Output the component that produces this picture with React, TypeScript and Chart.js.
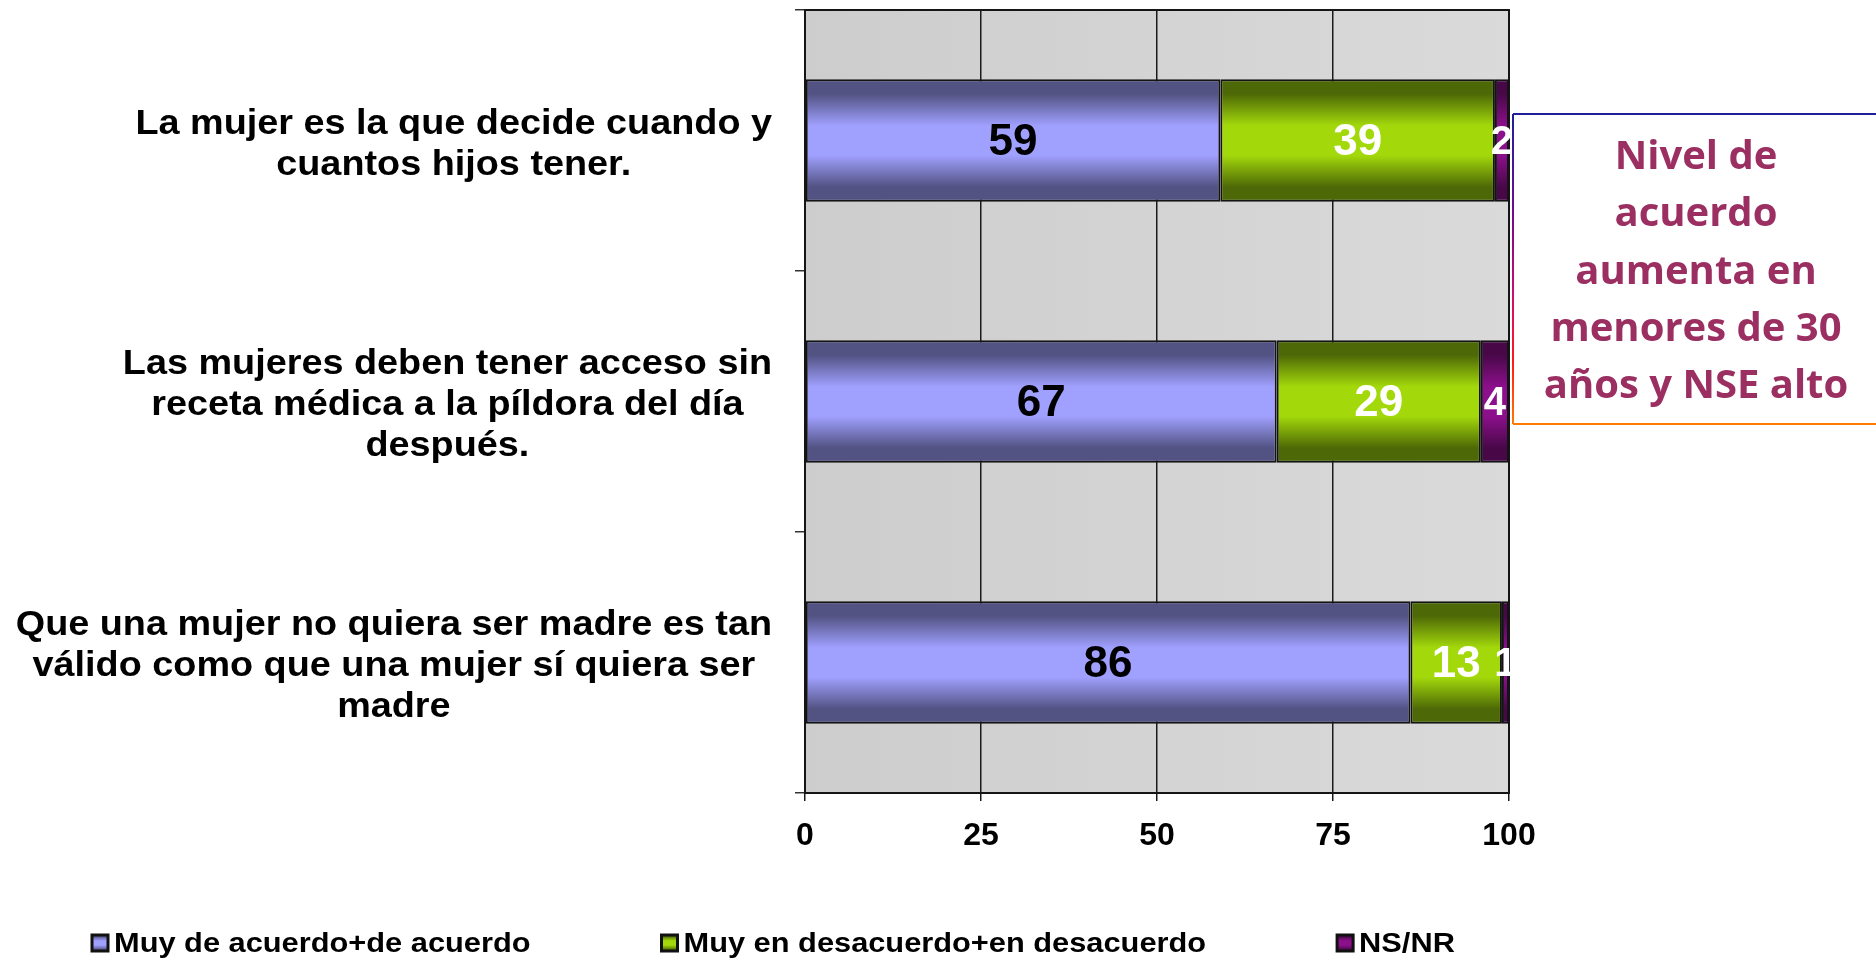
import React, { useEffect, useRef } from "react";
import { Chart, registerables } from "chart.js";

Chart.register(...registerables);

const categories: string[][] = [
  ["La mujer es la que decide cuando y", "cuantos hijos tener."],
  ["Las mujeres deben tener acceso sin", "receta médica a la píldora del día", "después."],
  ["Que una mujer no quiera ser madre es tan", "válido como que una mujer sí quiera ser", "madre"],
];
const seriesLabels = ["Muy de acuerdo+de acuerdo", "Muy en desacuerdo+en desacuerdo", "NS/NR"];
const agreeValues = [59, 67, 86];
const disagreeValues = [39, 29, 13];
const nsnrValues = [2, 4, 1];
const xMin = 0;
const xMax = 100;
const xStep = 25;
const annotationLines = ["Nivel de", "acuerdo", "aumenta en", "menores de 30", "años y NSE alto"];

const seriesColors = [
  { light: "#a0a0ff", dark: "#525283", text: "#000000", size: 44 },
  { light: "#a3d90b", dark: "#4d6806", text: "#ffffff", size: 44 },
  { light: "#8c0f8c", dark: "#480848", text: "#ffffff", size: 40 },
];

const FONT = "'Liberation Sans', Arial, Helvetica, sans-serif";
const BAR_PCT = 0.47;

function makeGradient(c: CanvasRenderingContext2D, y0: number, y1: number, light: string, dark: string) {
  const g = c.createLinearGradient(0, y0, 0, y1);
  g.addColorStop(0, dark);
  g.addColorStop(0.12, dark);
  g.addColorStop(0.38, light);
  g.addColorStop(0.62, light);
  g.addColorStop(0.88, dark);
  g.addColorStop(1, dark);
  return g;
}

function barFill(idx: number) {
  return (ctx: any) => {
    const chart = ctx.chart;
    const col = seriesColors[idx];
    if (!chart.chartArea || ctx.dataIndex === undefined || !chart.scales.y) return col.light;
    const ys = chart.scales.y;
    const band = (chart.chartArea.bottom - chart.chartArea.top) / categories.length;
    const center = ys.getPixelForValue(ctx.dataIndex);
    const t = band * BAR_PCT;
    return makeGradient(chart.ctx, center - t / 2, center + t / 2, col.light, col.dark);
  };
}

function stretchedText(c: CanvasRenderingContext2D, text: string, x: number, y: number, sx: number, align: CanvasTextAlign) {
  c.save();
  c.translate(x, y);
  c.scale(sx, 1);
  c.textAlign = align;
  c.fillText(text, 0, 0);
  c.restore();
}

const framePlugin = {
  id: "frame",
  beforeDraw(chart: any) {
    const { ctx, chartArea: a } = chart;
    ctx.save();
    const g = ctx.createLinearGradient(a.left, 0, a.right, 0);
    g.addColorStop(0, "#cdcdcd");
    g.addColorStop(1, "#dadada");
    ctx.fillStyle = g;
    ctx.fillRect(a.left, a.top, a.right - a.left, a.bottom - a.top);
    ctx.restore();
  },
  beforeDatasetsDraw(chart: any) {
    const { ctx, chartArea: a } = chart;
    ctx.save();
    ctx.strokeStyle = "#151515";
    ctx.lineWidth = 2;
    ctx.strokeRect(a.left, a.top, a.right - a.left, a.bottom - a.top);
    ctx.restore();
  },
};

const valueLabelPlugin = {
  id: "valueLabels",
  afterDatasetsDraw(chart: any) {
    const c = chart.ctx;
    c.save();
    c.textBaseline = "middle";
    c.textAlign = "center";
    chart.data.datasets.forEach((ds: any, i: number) => {
      const meta = chart.getDatasetMeta(i);
      const col = seriesColors[i];
      c.fillStyle = col.text;
      c.font = `bold ${col.size}px ${FONT}`;
      meta.data.forEach((bar: any, j: number) => {
        const p = bar.getProps(["x", "y", "base"], true);
        c.fillText(String(ds.data[j]), (p.x + p.base) / 2, p.y + 2);
      });
    });
    c.restore();
  },
};

const categoryLabelPlugin = {
  id: "categoryLabels",
  afterDraw(chart: any) {
    const c = chart.ctx;
    const ys = chart.scales.y;
    const right = chart.chartArea.left - 33;
    const sx = 1.08;
    const lh = 41;
    c.save();
    c.font = `bold 35px ${FONT}`;
    c.fillStyle = "#000";
    c.textBaseline = "alphabetic";
    categories.forEach((lines, i) => {
      const center = ys.getPixelForValue(i);
      const w = Math.max(...lines.map((l) => c.measureText(l).width)) * sx;
      const cx = right - w / 2;
      lines.forEach((l, k) => {
        const y = center + (k - (lines.length - 1) / 2) * lh + 13.5;
        stretchedText(c, l, cx, y, sx, "center");
      });
    });
    c.restore();
  },
};

const legendPlugin = {
  id: "customLegend",
  afterDraw(chart: any) {
    const c = chart.ctx;
    const sx = 1.14;
    let x = 91;
    const baseline = 951.5;
    c.save();
    c.font = `bold 27px ${FONT}`;
    c.textBaseline = "alphabetic";
    chart.data.datasets.forEach((ds: any, i: number) => {
      const col = seriesColors[i];
      const by = 934;
      const bs = 18;
      c.fillStyle = makeGradient(c, by, by + bs, col.light, col.dark);
      c.fillRect(x, by, bs, bs);
      c.strokeStyle = "#111";
      c.lineWidth = 3;
      c.strokeRect(x + 1, by + 1, bs - 2, bs - 2);
      c.fillStyle = "#000";
      const tx = x + 23;
      stretchedText(c, ds.label, tx, baseline, sx, "left");
      x = tx + c.measureText(ds.label).width * sx + 130;
    });
    c.restore();
  },
};

const annotationPlugin = {
  id: "annotationBox",
  afterDraw(chart: any) {
    const c = chart.ctx;
    const left = 1513;
    const top = 114;
    const bottom = 424;
    const far = 1880;
    c.save();
    c.lineWidth = 2;
    c.strokeStyle = "#1f1f9a";
    c.beginPath();
    c.moveTo(far, top);
    c.lineTo(left, top);
    c.stroke();
    const g = c.createLinearGradient(0, top, 0, bottom);
    g.addColorStop(0, "#1f1f9a");
    g.addColorStop(0.35, "#7a0a8a");
    g.addColorStop(0.6, "#d0106a");
    g.addColorStop(0.8, "#ff1a1a");
    g.addColorStop(1, "#ff7a00");
    c.strokeStyle = g;
    c.beginPath();
    c.moveTo(left, top);
    c.lineTo(left, bottom);
    c.stroke();
    c.strokeStyle = "#ff7a00";
    c.beginPath();
    c.moveTo(left, bottom);
    c.lineTo(far, bottom);
    c.stroke();
    c.fillStyle = "#9b2f61";
    c.font = `bold 40px 'Open Sans', 'Noto Sans', sans-serif`;
    c.textAlign = "center";
    c.textBaseline = "alphabetic";
    annotationLines.forEach((l, i) => {
      c.fillText(l, 1696, 169 + i * 57.25);
    });
    c.restore();
  },
};

export default function App() {
  const ref = useRef<HTMLCanvasElement | null>(null);

  useEffect(() => {
    if (!ref.current) return;
    const chart = new Chart(ref.current, {
      type: "bar",
      data: {
        labels: categories.map((c) => c.join(" ")),
        datasets: [
          { label: seriesLabels[0], data: agreeValues, backgroundColor: barFill(0) },
          { label: seriesLabels[1], data: disagreeValues, backgroundColor: barFill(1) },
          { label: seriesLabels[2], data: nsnrValues, backgroundColor: barFill(2) },
        ].map((d) => ({
          ...d,
          borderColor: "#141414",
          borderWidth: 2,
          borderSkipped: false,
          categoryPercentage: 1,
          barPercentage: BAR_PCT,
        })),
      },
      options: {
        indexAxis: "y",
        responsive: false,
        animation: false,
        layout: { padding: { top: 10, right: 367, left: 0, bottom: 0 } },
        plugins: { legend: { display: false }, tooltip: { enabled: false } },
        scales: {
          x: {
            stacked: true,
            min: xMin,
            max: xMax,
            border: { display: false },
            grid: { color: "#1a1a1a", lineWidth: 1.5, tickLength: 8, drawTicks: true },
            ticks: {
              stepSize: xStep,
              color: "#000",
              padding: 16,
              font: { family: FONT, size: 32, weight: "bold" },
            },
            afterFit: (s: any) => {
              s.height = 165;
            },
          },
          y: {
            stacked: true,
            border: { display: false },
            grid: { offset: true, drawOnChartArea: false, drawTicks: true, tickLength: 10, color: "#333", lineWidth: 1.5 },
            ticks: { display: false },
            afterFit: (s: any) => {
              s.width = 805;
            },
          },
        },
      },
      plugins: [framePlugin, valueLabelPlugin, categoryLabelPlugin, legendPlugin, annotationPlugin],
    } as any);
    return () => chart.destroy();
  }, []);

  return (
    <div style={{ position: "fixed", left: 0, top: 0, width: 1876, height: 958, background: "#fff" }}>
      <canvas ref={ref} width={1876} height={958} style={{ display: "block", width: 1876, height: 958 }} />
    </div>
  );
}
